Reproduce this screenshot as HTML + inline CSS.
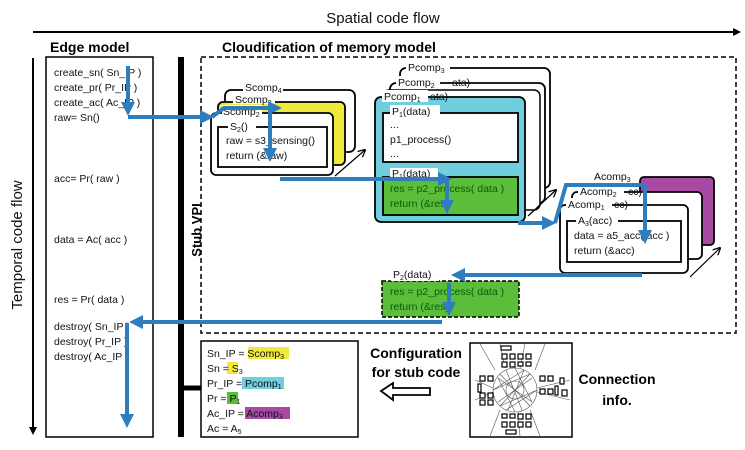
<!DOCTYPE html>
<html><head><meta charset="utf-8"><style>
html,body{margin:0;padding:0;background:#fff;}
svg{display:block;font-family:"Liberation Sans",sans-serif;}
.t{font-size:10.5px;fill:#111;}
.g{font-size:10.5px;fill:#0a5a0a;}
.b{font-weight:bold;}
</style></head><body>
<svg width="745" height="450" viewBox="0 0 745 450" xmlns="http://www.w3.org/2000/svg">
<defs>
<marker id="ab" markerWidth="8" markerHeight="8" refX="5" refY="4" orient="auto" markerUnits="userSpaceOnUse"><path d="M0,0 L8,4 L0,8 Z" fill="#000"/></marker>
<marker id="ah" markerWidth="14" markerHeight="14" refX="10" refY="7" orient="auto" markerUnits="userSpaceOnUse"><path d="M0,0 L14,7 L0,14 Z" fill="#2e7ebf"/></marker>
<marker id="as" markerWidth="8" markerHeight="8" refX="7" refY="4" orient="auto" markerUnits="userSpaceOnUse"><path d="M0,0 L8,4 L0,8" fill="none" stroke="#000" stroke-width="1.3"/></marker>
</defs>

<!-- spatial flow -->
<text x="383" y="23" text-anchor="middle" font-size="15" fill="#111">Spatial code flow</text>
<line x1="33" y1="32" x2="738" y2="32" stroke="#000" stroke-width="2" marker-end="url(#ab)"/>
<!-- temporal flow -->
<text transform="translate(22,245) rotate(-90)" text-anchor="middle" font-size="15" fill="#111">Temporal code flow</text>
<line x1="33" y1="58" x2="33" y2="432" stroke="#000" stroke-width="2" marker-end="url(#ab)"/>

<text x="50" y="52" class="b" font-size="14">Edge model</text>
<text x="222" y="52" class="b" font-size="14">Cloudification of memory model</text>

<!-- edge box -->
<rect x="46" y="57" width="107" height="380" fill="none" stroke="#000" stroke-width="1.5"/>
<text class="t" x="54" y="76">create_sn( Sn_IP )</text>
<text class="t" x="54" y="91">create_pr( Pr_IP )</text>
<text class="t" x="54" y="106">create_ac( Ac_IP )</text>
<text class="t" x="54" y="121">raw= Sn()</text>
<text class="t" x="54" y="182">acc= Pr( raw )</text>
<text class="t" x="54" y="243">data = Ac( acc )</text>
<text class="t" x="54" y="303">res = Pr( data )</text>
<text class="t" x="54" y="330">destroy( Sn_IP )</text>
<text class="t" x="54" y="345">destroy( Pr_IP )</text>
<text class="t" x="54" y="360">destroy( Ac_IP )</text>

<!-- stub vpi -->
<rect x="178" y="57" width="6" height="380" fill="#000"/>
<text transform="translate(201,230) rotate(-90)" text-anchor="middle" class="b" font-size="13">Stub VPI</text>
<line x1="184" y1="388" x2="201" y2="388" stroke="#000" stroke-width="5"/>

<!-- dashed cloud box -->
<rect x="201" y="57" width="535" height="276" fill="none" stroke="#000" stroke-width="1.5" stroke-dasharray="5,3"/>

<!-- Scomp stack -->
<rect x="225" y="90" width="130" height="62" rx="6" fill="#fff" stroke="#000" stroke-width="1.8"/>
<rect x="218" y="102" width="127" height="63" rx="5" fill="#f0ea3c" stroke="#000" stroke-width="1.8"/>
<rect x="211" y="113" width="122" height="62" rx="5" fill="#fff" stroke="#000" stroke-width="1.8"/>
<rect x="218" y="127" width="109" height="40" fill="#fff" stroke="#000" stroke-width="1.8"/>
<rect x="243" y="80" width="40" height="12" fill="#fff"/>
<text class="t" x="245" y="91">Scomp<tspan font-size="7" dy="2">4</tspan></text>
<rect x="233" y="93" width="42" height="11" fill="#fff"/>
<text class="t" x="235" y="103">Scomp<tspan font-size="7" dy="2">3</tspan></text>
<rect x="222" y="105" width="40" height="11" fill="#fff"/>
<text class="t" x="223" y="115">Scomp<tspan font-size="7" dy="2">2</tspan></text>
<rect x="228" y="120" width="28" height="11" fill="#fff"/>
<text class="t" x="230" y="130">S<tspan font-size="7" dy="2">2</tspan><tspan dy="-2">()</tspan></text>
<text class="t" x="226" y="144">raw = s3_sensing()</text>
<text class="t" x="226" y="159">return (&amp;raw)</text>

<!-- Pcomp stack -->
<rect x="400" y="68" width="150" height="120" rx="6" fill="#fff" stroke="#000" stroke-width="1.8"/>
<rect x="390" y="83" width="155" height="120" rx="6" fill="#fff" stroke="#000" stroke-width="1.8"/>
<rect x="383" y="90" width="157" height="120" rx="6" fill="#fff" stroke="#000" stroke-width="1.5"/>
<rect x="375" y="97" width="150" height="125" rx="6" fill="#6fcfdc" stroke="#000" stroke-width="1.8"/>
<rect x="383" y="113" width="135" height="49" fill="#fff" stroke="#000" stroke-width="1.8"/>
<rect x="383" y="177" width="135" height="38" fill="#5cbd3a" stroke="#000" stroke-width="1.8"/>
<rect x="406" y="60" width="44" height="12" fill="#fff"/>
<text class="t" x="408" y="71">Pcomp<tspan font-size="7" dy="2">3</tspan></text>
<text class="t" x="452" y="86" font-size="9">ata)</text>
<rect x="396" y="76" width="44" height="12" fill="#fff"/>
<text class="t" x="398" y="86">Pcomp<tspan font-size="7" dy="2">2</tspan></text>
<rect x="382" y="90" width="46" height="12" fill="#fff"/>
<text class="t" x="384" y="100">Pcomp<tspan font-size="7" dy="2">1</tspan></text>
<text class="t" x="430" y="100" font-size="9">ata)</text>
<rect x="390" y="105" width="50" height="12" fill="#fff"/>
<text class="t" x="392" y="115">P<tspan font-size="7" dy="2">1</tspan><tspan dy="-2">(data)</tspan></text>
<text class="t" x="390" y="128">...</text>
<text class="t" x="390" y="143">p1_process()</text>
<text class="t" x="390" y="157">...</text>
<rect x="390" y="168" width="48" height="12" fill="#fff"/>
<text class="t" x="392" y="177">P<tspan font-size="7" dy="2">1</tspan><tspan dy="-2">(data)</tspan></text>
<text class="g" x="390" y="192">res = p2_process( data )</text>
<text class="g" x="390" y="207">return (&amp;res)</text>

<!-- Acomp stack -->
<rect x="640" y="177" width="74" height="68" rx="4" fill="#a84aa4" stroke="#000" stroke-width="1.8"/>
<rect x="572" y="192" width="130" height="67" rx="5" fill="#fff" stroke="#000" stroke-width="1.8"/>
<rect x="560" y="205" width="128" height="68" rx="5" fill="#fff" stroke="#000" stroke-width="1.8"/>
<rect x="567" y="221" width="114" height="41" fill="#fff" stroke="#000" stroke-width="1.8"/>
<rect x="592" y="170" width="46" height="11" fill="#fff"/>
<text class="t" x="594" y="180">Acomp<tspan font-size="7" dy="2">3</tspan></text>
<rect x="578" y="185" width="46" height="11" fill="#fff"/>
<text class="t" x="580" y="195">Acomp<tspan font-size="7" dy="2">2</tspan></text>
<text class="t" x="628" y="195" font-size="9">cc)</text>
<rect x="566" y="198" width="46" height="11" fill="#fff"/>
<text class="t" x="568" y="208">Acomp<tspan font-size="7" dy="2">1</tspan></text>
<text class="t" x="614" y="208" font-size="9">cc)</text>
<rect x="576" y="214" width="42" height="11" fill="#fff"/>
<text class="t" x="578" y="224">A<tspan font-size="7" dy="2">3</tspan><tspan dy="-2">(acc)</tspan></text>
<text class="t" x="574" y="239">data = a5_acc( acc )</text>
<text class="t" x="574" y="254">return (&amp;acc)</text>

<!-- P2 dashed box -->
<rect x="382" y="281" width="137" height="36" fill="#5cbd3a" stroke="#000" stroke-width="1.5" stroke-dasharray="4,2"/>
<rect x="391" y="269" width="48" height="12" fill="#fff"/>
<text class="t" x="393" y="278">P<tspan font-size="7" dy="2">2</tspan><tspan dy="-2">(data)</tspan></text>
<text class="g" x="390" y="295">res = p2_process( data )</text>
<text class="g" x="390" y="310">return (&amp;res)</text>

<!-- small black arrows -->
<line x1="335" y1="176" x2="365" y2="150" stroke="#000" stroke-width="1.2" marker-end="url(#as)"/>
<line x1="528" y1="216" x2="556" y2="190" stroke="#000" stroke-width="1.2" marker-end="url(#as)"/>
<line x1="690" y1="277" x2="720" y2="248" stroke="#000" stroke-width="1.2" marker-end="url(#as)"/>

<!-- blue flow -->
<g stroke="#2e7ebf" stroke-width="4" fill="none">
<line x1="128" y1="66" x2="128" y2="112" marker-end="url(#ah)"/>
<line x1="128" y1="117" x2="210" y2="117" marker-end="url(#ah)"/>
<polyline points="212,117 224,108 278,108" marker-end="url(#ah)"/>
<line x1="270" y1="108" x2="270" y2="158" marker-end="url(#ah)"/>
<line x1="280" y1="179" x2="448" y2="179" marker-end="url(#ah)"/>
<line x1="447" y1="180" x2="447" y2="210" marker-end="url(#ah)"/>
<line x1="518" y1="223" x2="552" y2="223" marker-end="url(#ah)"/>
<polyline points="555,223 566,185 645,185"/>
<line x1="645" y1="185" x2="645" y2="240" marker-end="url(#ah)"/>
<line x1="642" y1="275" x2="455" y2="275" marker-end="url(#ah)"/>
<line x1="449" y1="283" x2="449" y2="312" marker-end="url(#ah)"/>
<line x1="442" y1="322" x2="133" y2="322" marker-end="url(#ah)"/>
<line x1="127" y1="323" x2="127" y2="424" marker-end="url(#ah)"/>
</g>

<!-- config box -->
<rect x="201" y="341" width="157" height="96" fill="#fff" stroke="#000" stroke-width="1.5"/>
<rect x="248" y="347" width="41" height="12" fill="#f0ea3c"/>
<rect x="227" y="362" width="11" height="12" fill="#f0ea3c"/>
<rect x="242" y="377" width="42" height="12" fill="#6fcfdc"/>
<rect x="227" y="392" width="11" height="12" fill="#5cbd3a"/>
<rect x="245" y="407" width="45" height="12" fill="#a84aa4"/>
<text class="t" x="207" y="357">Sn_IP = Scomp<tspan font-size="7" dy="2">3</tspan></text>
<text class="t" x="207" y="372">Sn = S<tspan font-size="7" dy="2">3</tspan></text>
<text class="t" x="207" y="387">Pr_IP = Pcomp<tspan font-size="7" dy="2">1</tspan></text>
<text class="t" x="207" y="402">Pr = P<tspan font-size="7" dy="2">1</tspan></text>
<text class="t" x="207" y="417">Ac_IP = Acomp<tspan font-size="7" dy="2">3</tspan></text>
<text class="t" x="207" y="432">Ac = A<tspan font-size="7" dy="2">5</tspan></text>

<text x="416" y="358" text-anchor="middle" class="b" font-size="14">Configuration</text>
<text x="416" y="377" text-anchor="middle" class="b" font-size="14">for stub code</text>
<path d="M381,391 L393,383 L393,388 L430,388 L430,395 L393,395 L393,400 Z" fill="#fff" stroke="#000" stroke-width="1.8"/>

<!-- connection box -->
<rect x="470" y="343" width="102" height="94" fill="#fff" stroke="#000" stroke-width="1.5"/>
<g stroke="#555" stroke-width="0.6" fill="none">
<circle cx="515" cy="390" r="22"/><circle cx="515" cy="390" r="9"/>
<path d="M493,390 L524,370 M537,390 L506,410 M515,368 L532,402 M515,412 L498,378 M500,374 L530,406 M530,374 L500,406 M493,390 L530,374 M537,390 L500,406 M506,370 L522,410 M524,370 L508,410 M498,402 L532,378 M532,402 L498,378"/>
<path d="M480,344 L495,370 M500,344 L505,368 M525,344 L520,368 M545,344 L535,370 M475,380 L493,388 M475,400 L493,392 M570,380 L537,388 M570,400 L537,392 M490,436 L500,410 M520,436 L518,412 M540,436 L530,410"/>
</g>
<g fill="#fff" stroke="#000" stroke-width="1.2">
<rect x="501" y="346" width="10" height="4"/>
<rect x="502" y="354" width="5" height="5"/><rect x="510" y="354" width="5" height="5"/><rect x="518" y="354" width="5" height="5"/><rect x="526" y="354" width="5" height="5"/>
<rect x="502" y="362" width="5" height="5"/><rect x="510" y="362" width="5" height="5"/><rect x="518" y="362" width="5" height="4"/><rect x="526" y="362" width="5" height="4"/>
<rect x="480" y="376" width="5" height="5"/><rect x="488" y="376" width="5" height="5"/><rect x="478" y="384" width="3" height="8"/>
<rect x="480" y="393" width="5" height="5"/><rect x="488" y="393" width="5" height="5"/><rect x="480" y="400" width="5" height="5"/><rect x="488" y="400" width="5" height="5"/>
<rect x="540" y="376" width="5" height="5"/><rect x="548" y="376" width="5" height="5"/><rect x="560" y="378" width="4" height="6"/>
<rect x="540" y="389" width="5" height="5"/><rect x="548" y="389" width="5" height="5"/><rect x="555" y="386" width="3" height="9"/><rect x="562" y="390" width="5" height="6"/>
<rect x="502" y="414" width="5" height="4"/><rect x="510" y="414" width="5" height="4"/><rect x="518" y="414" width="5" height="5"/><rect x="526" y="414" width="5" height="5"/>
<rect x="502" y="422" width="5" height="5"/><rect x="510" y="422" width="5" height="5"/><rect x="518" y="422" width="5" height="5"/><rect x="526" y="422" width="5" height="5"/>
<rect x="506" y="430" width="10" height="4"/>
</g>
<text x="617" y="384" text-anchor="middle" class="b" font-size="14">Connection</text>
<text x="617" y="405" text-anchor="middle" class="b" font-size="14">info.</text>
</svg>
</body></html>
